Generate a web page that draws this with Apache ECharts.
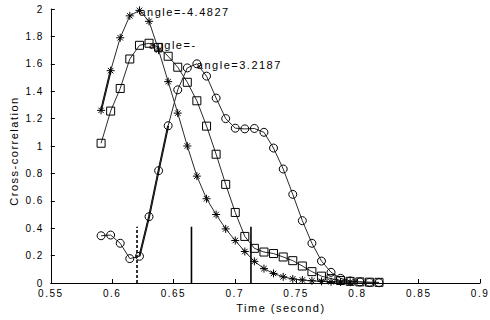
<!DOCTYPE html>
<html><head><meta charset="utf-8">
<script src="https://cdn.jsdelivr.net/npm/echarts@6/dist/echarts.min.js"></script>
<style>
html,body{margin:0;padding:0;background:#fff;}
#chart{width:490px;height:320px;}
#chart svg text{letter-spacing:1.5px;}
</style></head><body><div id="chart"></div>
<script>
// sample times (second)
const times = [0.5910,0.5988,0.6066,0.6144,0.6223,0.6301,0.6379,0.6457,0.6535,0.6613,
               0.6691,0.6770,0.6848,0.6926,0.7004,0.7082,0.7160,0.7238,0.7316,0.7395,
               0.7473,0.7551,0.7629,0.7707,0.7785,0.7863,0.7941,0.8020,0.8098,0.8176];
// asterisk series
const starValues = [1.26,1.55,1.79,1.95,1.99,1.91,1.70,1.47,1.24,1.00,
                    0.78,0.615,0.50,0.395,0.31,0.23,0.158,0.105,0.07,0.045,
                    0.03,0.022,0.016,0.012,0.009,0.007,0.006];
// square series
const squareValues = [1.02,1.255,1.42,1.635,1.735,1.75,1.72,1.655,1.575,1.465,
                      1.33,1.145,0.94,0.72,0.515,0.34,0.253,0.226,0.215,0.19,
                      0.163,0.124,0.083,0.05,0.032,0.018,0.012,0.008,0.006,0.005];
// circle series
const circleValues = [0.345,0.35,0.29,0.178,0.195,0.484,0.82,1.148,1.41,1.57,
                      1.60,1.51,1.35,1.20,1.13,1.125,1.128,1.10,0.985,0.832,
                      0.647,0.455,0.29,0.16,0.078,0.034,0.015,0.008,0.004,0.002];
// bold segments (index ranges)
const starBold = [0, 1];
const circleBold = [4, 7];
// vertical markers
const markerTimes = [0.6203, 0.6647, 0.7132];
const markerHeights = [0.41, 0.41, 0.41];
const markerDashed = [true, false, false];
// annotations
const annotationTexts = ['angle=-4.4827', 'angle=-', 'angle=3.2187'];
const annotationIndex = [4, 5, 10];

const FONT = '"Liberation Sans", Arial, sans-serif';
const asterisk = 'path://M5,0L5,10M0,5L10,5M1.6,1.6L8.4,8.4M1.6,8.4L8.4,1.6';

function buildData(vals, annIdx, annText) {
  return vals.map((v, i) => {
    const item = { value: [times[i], v] };
    if (i === annIdx) {
      item.label = { show: true, formatter: annText, position: 'inside', align: 'left',
        verticalAlign: 'middle', offset: [0, 1.5], fontSize: 11, color: '#000', fontFamily: FONT };
    }
    return item;
  });
}

const lineCol = '#2a2a2a';
function markerSeries(name, vals, symbol, size, annK) {
  return {
    name, type: 'line', data: buildData(vals, annotationIndex[annK], annotationTexts[annK]),
    symbol, symbolSize: size, showAllSymbol: true,
    lineStyle: { color: lineCol, width: 1 },
    itemStyle: { color: 'rgba(0,0,0,0)', borderColor: '#000', borderWidth: 1 },
    emphasis: { disabled: true }, animation: false, z: 3
  };
}
function boldSeries(vals, range) {
  const d = [];
  for (let i = range[0]; i <= range[1]; i++) d.push([times[i], vals[i]]);
  return { type: 'line', data: d, symbol: 'none', lineStyle: { color: '#000', width: 2 },
    animation: false, z: 2, silent: true };
}
const series = [
  markerSeries('star', starValues, asterisk, 8, 0),
  markerSeries('square', squareValues, 'rect', 8, 1),
  markerSeries('circle', circleValues, 'circle', 8, 2),
  boldSeries(starValues, starBold),
  boldSeries(circleValues, circleBold)
];
markerTimes.forEach((t, k) => {
  series.push({ type: 'line', data: [[t, 0], [t, markerHeights[k]]], symbol: 'none',
    lineStyle: { color: '#000', width: 1.6, type: markerDashed[k] ? [3, 2] : 'solid' },
    animation: false, silent: true, z: 4 });
});

const chart = echarts.init(document.getElementById('chart'), null, { renderer: 'svg' });
chart.setOption({
  backgroundColor: '#fff',
  animation: false,
  textStyle: { fontFamily: FONT },
  grid: { left: 49, right: 1, top: 9, bottom: 37, containLabel: false },
  xAxis: {
    type: 'value', min: 0.55, max: 0.9, interval: 0.05,
    name: 'Time (second)', nameLocation: 'middle', nameGap: 18,
    nameTextStyle: { fontSize: 11, color: '#000', fontFamily: FONT, padding: [0, 0, 0, 31] },
    axisLine: { lineStyle: { color: '#000', width: 1 } },
    axisTick: { inside: true, length: 4, lineStyle: { color: '#000' } },
    axisLabel: { fontSize: 10, color: '#000', margin: 5, fontFamily: FONT,
      formatter: v => String(+v.toFixed(2)) },
    splitLine: { show: false }
  },
  yAxis: {
    type: 'value', min: 0, max: 2, interval: 0.2,
    name: 'Cross-correlation', nameLocation: 'middle', nameGap: 28,
    nameTextStyle: { fontSize: 11, color: '#000', fontFamily: FONT, padding: [0, 10, 0, 0] },
    axisLine: { show: true, lineStyle: { color: '#000', width: 1 } },
    axisTick: { show: true, inside: true, length: 4, lineStyle: { color: '#000' } },
    axisLabel: { fontSize: 10, color: '#000', margin: 7, fontFamily: FONT,
      formatter: v => String(+v.toFixed(1)) },
    splitLine: { show: false }
  },
  series
});
</script></body></html>
